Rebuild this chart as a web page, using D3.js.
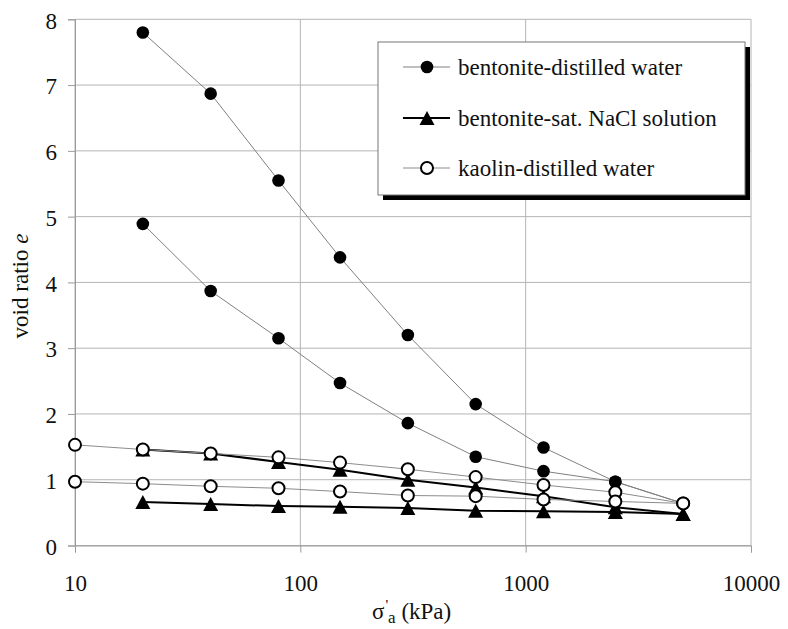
<!DOCTYPE html>
<html>
<head>
<meta charset="utf-8">
<script src="https://cdn.jsdelivr.net/npm/d3@7"></script>
<style>
  html, body { margin: 0; padding: 0; background: #fff; }
  svg, svg text { font-family: "Liberation Serif", "DejaVu Serif", serif !important; }
</style>
</head>
<body>
<svg id="chart" width="788" height="629"></svg>
<script>
// Effective axial stress levels (kPa)
const stress = [10, 20, 40, 80, 150, 300, 600, 1200, 2500, 5000];

// Void ratio e for each test (null = no reading at that stress)
const bentoniteWaterA = [null, 7.80, 6.87, 5.55, 4.38, 3.20, 2.15, 1.49, 0.97, 0.64];
const bentoniteWaterB = [null, 4.89, 3.87, 3.15, 2.47, 1.86, 1.35, 1.13, 0.97, 0.64];
const bentoniteNaClA  = [null, 1.46, 1.40, 1.27, 1.15, 1.00, 0.88, 0.75, 0.58, 0.48];
const bentoniteNaClB  = [null, 0.66, 0.63, 0.60, 0.59, 0.57, 0.53, 0.52, 0.51, 0.48];
const kaolinWaterA    = [1.53, 1.46, 1.40, 1.34, 1.26, 1.16, 1.04, 0.92, 0.81, 0.64];
const kaolinWaterB    = [0.97, 0.94, 0.90, 0.87, 0.82, 0.76, 0.75, 0.70, 0.67, 0.64];

// Axis ticks
const xTicks = [10, 100, 1000, 10000];
const yTicks = [0, 1, 2, 3, 4, 5, 6, 7, 8];

// Legend labels
const seriesNames = ["bentonite-distilled water", "bentonite-sat. NaCl solution", "kaolin-distilled water"];

const FONT = "'Liberation Serif', 'DejaVu Serif', serif";

const svg = d3.select("#chart");
svg.append("rect").attr("width", 788).attr("height", 629).attr("fill", "#fff");

const x = d3.scaleLog().domain([10, 10000]).range([75, 751]);
const y = d3.scaleLinear().domain([0, 8]).range([545.5, 19.3]);

const gridColor = "#b4b4b4";
const axisColor = "#9a9a9a";

// Grid
const grid = svg.append("g");
grid.selectAll("line.h").data(yTicks).join("line")
  .attr("x1", x(10)).attr("x2", x(10000))
  .attr("y1", d => y(d)).attr("y2", d => y(d))
  .attr("stroke", gridColor).attr("stroke-width", 1);
grid.selectAll("line.v").data(xTicks).join("line")
  .attr("x1", d => x(d)).attr("x2", d => x(d))
  .attr("y1", y(8)).attr("y2", y(0))
  .attr("stroke", gridColor).attr("stroke-width", 1);

// Axes
const xAxis = svg.append("g").attr("transform", `translate(0,${y(0)})`)
  .call(d3.axisBottom(x).tickValues(xTicks).tickSize(7).tickFormat(d3.format("d")));
xAxis.selectAll("text").attr("y", 45).attr("dy", 0);

const yAxis = svg.append("g").attr("transform", `translate(${x(10)},0)`)
  .call(d3.axisLeft(y).tickValues(yTicks).tickSize(7).tickFormat(d3.format("d")));
yAxis.selectAll("text").attr("x", -18).attr("dy", "0.38em");

[xAxis, yAxis].forEach(g => {
  g.attr("font-family", FONT).attr("font-size", 23);
  g.select(".domain").attr("stroke", axisColor);
  g.selectAll(".tick line").attr("stroke", axisColor);
  g.selectAll("text").attr("fill", "#111").style("font-family", FONT).style("font-size", "23px");
});

// Axis titles
const yTitle = svg.append("text")
  .attr("transform", "translate(28,286) rotate(-90)")
  .attr("text-anchor", "middle").style("font-family", FONT).style("font-size", "23px").attr("fill", "#111");
yTitle.append("tspan").text("void ratio ");
yTitle.append("tspan").attr("font-style", "italic").text("e");

const xTitle = svg.append("text")
  .attr("x", 372).attr("y", 619).style("font-family", FONT).style("font-size", "23px").attr("fill", "#111");
xTitle.append("tspan").text("σ");
xTitle.append("tspan").style("font-size", "15px").attr("dy", -9).attr("dx", 1).text("'");
xTitle.append("tspan").style("font-size", "17px").attr("dy", 13).text("a");
xTitle.append("tspan").attr("dy", -4).text(" (kPa)");

// Series drawing helpers
const pts = arr => stress.map((s, i) => ({ s, e: arr[i] })).filter(d => d.e !== null);
const line = d3.line().x(d => x(d.s)).y(d => y(d.e));
const triPath = (cx, cy) => `M${cx},${cy - 7}L${cx + 7.5},${cy + 7}L${cx - 7.5},${cy + 7}Z`;

const plot = svg.append("g");

function drawLine(arr, color, width) {
  plot.append("path").datum(pts(arr)).attr("d", line)
    .attr("fill", "none").attr("stroke", color).attr("stroke-width", width);
}
function drawFilled(arr) {
  plot.append("g").selectAll("circle").data(pts(arr)).join("circle")
    .attr("cx", d => x(d.s)).attr("cy", d => y(d.e)).attr("r", 6.3).attr("fill", "#000");
}
function drawTriangles(arr) {
  plot.append("g").selectAll("path").data(pts(arr)).join("path")
    .attr("d", d => triPath(x(d.s), y(d.e))).attr("fill", "#000");
}
function drawOpen(arr) {
  plot.append("g").selectAll("circle").data(pts(arr)).join("circle")
    .attr("cx", d => x(d.s)).attr("cy", d => y(d.e)).attr("r", 6)
    .attr("fill", "#fff").attr("stroke", "#000").attr("stroke-width", 2);
}

// Bentonite - distilled water
drawLine(bentoniteWaterA, "#808080", 1);
drawLine(bentoniteWaterB, "#808080", 1);
drawFilled(bentoniteWaterA);
drawFilled(bentoniteWaterB);

// Bentonite - saturated NaCl solution
drawLine(bentoniteNaClA, "#000", 2);
drawLine(bentoniteNaClB, "#000", 2);
drawTriangles(bentoniteNaClA);
drawTriangles(bentoniteNaClB);

// Kaolin - distilled water
drawLine(kaolinWaterA, "#8c8c8c", 1);
drawLine(kaolinWaterB, "#8c8c8c", 1);
drawOpen(kaolinWaterA);
drawOpen(kaolinWaterB);

// Legend
const legend = svg.append("g");
legend.append("rect").attr("x", 383).attr("y", 47).attr("width", 367).attr("height", 153).attr("fill", "#000");
legend.append("rect").attr("x", 378).attr("y", 42).attr("width", 367).attr("height", 153)
  .attr("fill", "#fff").attr("stroke", "#777").attr("stroke-width", 1);

const rowY = [67, 118, 168];
const styles = [
  { color: "#808080", width: 1, marker: "filled" },
  { color: "#000", width: 2, marker: "tri" },
  { color: "#8c8c8c", width: 1, marker: "open" }
];
seriesNames.forEach((name, i) => {
  const ry = rowY[i], st = styles[i];
  legend.append("line").attr("x1", 403).attr("x2", 450).attr("y1", ry).attr("y2", ry)
    .attr("stroke", st.color).attr("stroke-width", st.width);
  if (st.marker === "filled") {
    legend.append("circle").attr("cx", 427).attr("cy", ry).attr("r", 6.3).attr("fill", "#000");
  } else if (st.marker === "tri") {
    legend.append("path").attr("d", triPath(427, ry)).attr("fill", "#000");
  } else {
    legend.append("circle").attr("cx", 427).attr("cy", ry).attr("r", 6)
      .attr("fill", "#fff").attr("stroke", "#000").attr("stroke-width", 2);
  }
  legend.append("text").attr("x", 458).attr("y", ry + 8.3)
    .style("font-family", FONT).style("font-size", "23px").attr("fill", "#111").text(name);
});
</script>
</body>
</html>
